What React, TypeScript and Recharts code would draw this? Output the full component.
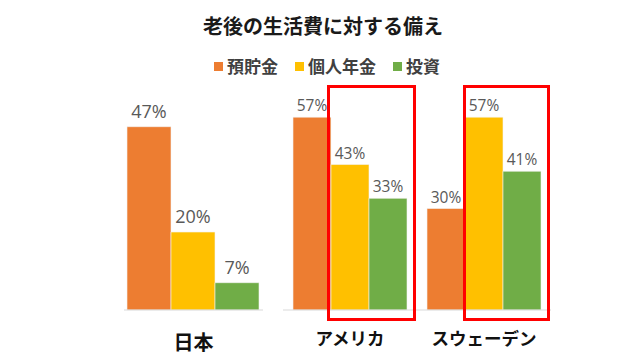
import React from 'react';
import { BarChart, Bar, XAxis, YAxis, LabelList } from 'recharts';

const TITLE = '老後の生活費に対する備え';
const SERIES = [
  { key: 'savings', name: '預貯金', color: '#ED7D31' },
  { key: 'pension', name: '個人年金', color: '#FFC000' },
  { key: 'invest', name: '投資', color: '#70AD47' },
];

const JAPAN = ['日本'];
const OTHERS = ['アメリカ', 'スウェーデン'];
const savings = [47, 57, 30];
const pension = [20, 43, 57];
const invest = [7, 33, 41];

const rows = [...JAPAN, ...OTHERS].map((country, i) => ({
  country,
  savings: savings[i],
  pension: pension[i],
  invest: invest[i],
}));

const japanData = rows.slice(0, 1);
const otherData = rows.slice(1);

const FONT = '"Noto Sans CJK JP", "Noto Sans", sans-serif';
const NUM_FONT = '"Open Sans", sans-serif';

function CountryTick({ x, y, payload, size, dy }: any) {
  return (
    <text x={x} y={y + dy} textAnchor="middle" dominantBaseline="central"
      fontFamily={FONT} fontWeight={700} fontSize={size} fill="#111">
      {payload.value}
    </text>
  );
}

function Group({ data, width, top, max, gap, labelSize, tickSize, tickDy, offset }: any) {
  return (
    <BarChart width={width} height={360} data={data} barGap={0} barCategoryGap={gap}
      margin={{ top, right: 0, bottom: 0, left: 0 }}>
      <YAxis hide domain={[0, max]} />
      <XAxis dataKey="country" height={50} tickLine={false} tickSize={0} tickMargin={0}
        axisLine={{ stroke: '#d9d9d9' }} interval={0}
        tick={<CountryTick size={tickSize} dy={tickDy} />} />
      {SERIES.map((s) => (
        <Bar key={s.key} dataKey={s.key} fill={s.color} stroke="#f3f3f3" strokeWidth={0.6}
          isAnimationActive={false}>
          <LabelList dataKey={s.key} position="top" offset={offset}
            formatter={(v: any) => `${v}%`}
            style={{ fill: '#595959', fontSize: labelSize, fontFamily: NUM_FONT }} />
        </Bar>
      ))}
    </BarChart>
  );
}

export default function App() {
  return (
    <div style={{ position: 'absolute', top: 0, left: 0, width: 640, height: 360, background: '#fff', fontFamily: FONT, overflow: 'hidden' }}>
      <div style={{ position: 'absolute', top: 12, left: 0, width: 646, textAlign: 'center', fontSize: 20, fontWeight: 700, color: '#1a1a1a', lineHeight: '28px' }}>
        {TITLE}
      </div>
      <div style={{ position: 'absolute', top: 54, left: 0, width: 654, display: 'flex', justifyContent: 'center', gap: 17, fontSize: 17, fontWeight: 700, color: '#404040', lineHeight: '24px' }}>
        {SERIES.map((s) => (
          <div key={s.key} style={{ display: 'flex', alignItems: 'center', gap: 4 }}>
            <span style={{ width: 9, height: 9, background: s.color, display: 'inline-block' }} />
            <span>{s.name}</span>
          </div>
        ))}
      </div>
      <div style={{ position: 'absolute', left: 124, top: 0 }}>
        <Group data={japanData} width={139} top={115} max={50} gap={3}
          labelSize={18} tickSize={20} tickDy={31.5} offset={9} />
      </div>
      <div style={{ position: 'absolute', left: 283, top: 0 }}>
        <Group data={otherData} width={268} top={107} max={60} gap={10}
          labelSize={15.5} tickSize={17.5} tickDy={27} offset={6} />
      </div>
      <div style={{ position: 'absolute', left: 327, top: 85, width: 89, height: 236, border: '3px solid #ff0000', boxSizing: 'border-box' }} />
      <div style={{ position: 'absolute', left: 463, top: 85, width: 87, height: 236, border: '3px solid #ff0000', boxSizing: 'border-box' }} />
    </div>
  );
}
